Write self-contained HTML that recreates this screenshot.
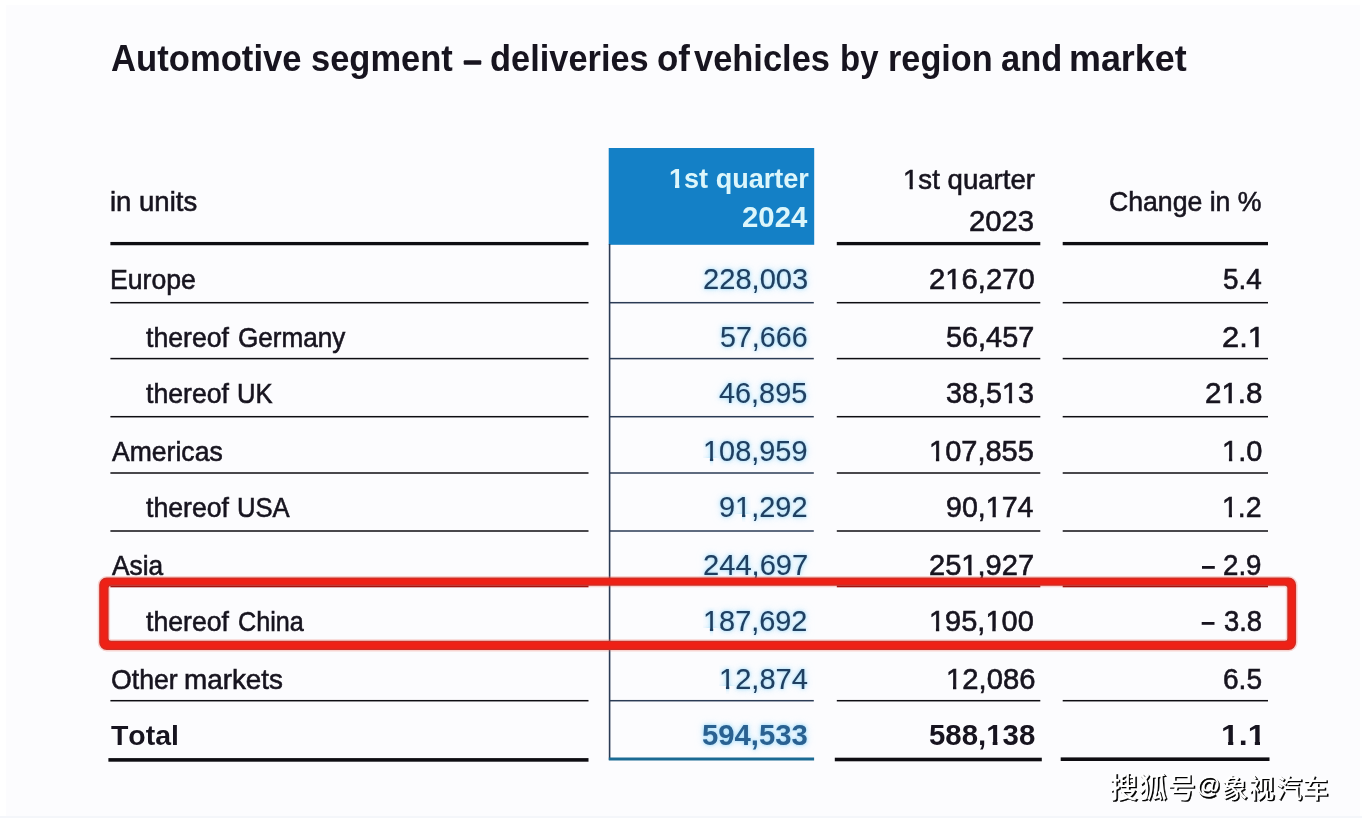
<!DOCTYPE html>
<html><head><meta charset="utf-8"><title>Automotive segment – deliveries of vehicles by region and market</title>
<style>
html,body{margin:0;padding:0;}
body{width:1362px;height:818px;overflow:hidden;background:#fcfcfe;font-family:"Liberation Sans",sans-serif;position:relative;}
.t{font-kerning:none;-webkit-text-stroke:0.6px currentColor;position:absolute;white-space:nowrap;line-height:1;transform-origin:0 0;display:block;}
.l{position:absolute;}
i{font-style:normal;}
.o0{display:inline-block;clip-path:polygon(0 0,100% 0,100% 20.29px,10.91px 20.29px,10.91px 100%,6.30px 100%,6.30px 20.29px,0 20.29px);}
.o1{display:inline-block;clip-path:polygon(0 0,100% 0,100% 21.07px,10.04px 21.07px,10.04px 100%,6.82px 100%,6.82px 21.07px,0 21.07px);}
.o2{display:inline-block;clip-path:polygon(0 0,100% 0,100% 21.03px,10.21px 21.03px,10.21px 100%,6.94px 100%,6.94px 21.03px,0 21.03px);}
.o3{display:inline-block;clip-path:polygon(0 0,100% 0,100% 20.24px,11.10px 20.24px,11.10px 100%,6.42px 100%,6.42px 20.24px,0 20.24px);}
#w{position:absolute;left:0;top:0;width:1362px;height:818px;will-change:transform;filter:blur(0.35px);}
.g{-webkit-text-stroke:0.1px currentColor;text-shadow:0 0 3px rgba(150,215,250,.75),0 0 5px rgba(165,222,250,.7),0 0 8px rgba(185,230,252,.6);}
</style></head><body><div id="w">
<svg class="l" style="left:0;top:0" width="1362" height="818" viewBox="0 0 1362 818"><rect x="463.70" y="60.30" width="17.60" height="4.40" fill="#17141f" rx="1"/>
<rect x="0.00" y="0.00" width="1362.00" height="5.00" fill="#ffffff" />
<rect x="0.00" y="0.00" width="6.00" height="818.00" fill="#ffffff" />
<rect x="1360.00" y="0.00" width="2.00" height="818.00" fill="#ffffff" />
<rect x="0.00" y="816.00" width="1362.00" height="2.00" fill="#f4f6fa" />
<rect x="609.00" y="245.00" width="205.00" height="514.00" fill="#fcfcfe" />
<rect x="608.70" y="148.00" width="205.50" height="96.80" fill="#1480c6" />
<rect x="608.80" y="244.00" width="1.60" height="516.00" fill="#2b3b55" />
<rect x="110.40" y="241.95" width="478.10" height="3.30" fill="#0e0d12" />
<rect x="836.80" y="241.95" width="203.50" height="3.30" fill="#0e0d12" />
<rect x="1062.70" y="241.95" width="205.30" height="3.30" fill="#0e0d12" />
<rect x="110.40" y="301.95" width="478.10" height="1.50" fill="#0e0d12" />
<rect x="609.00" y="301.95" width="204.80" height="1.50" fill="#2b3b55" />
<rect x="836.80" y="301.95" width="203.50" height="1.50" fill="#0e0d12" />
<rect x="1062.70" y="301.95" width="205.30" height="1.50" fill="#0e0d12" />
<rect x="110.40" y="357.85" width="478.10" height="1.50" fill="#0e0d12" />
<rect x="609.00" y="357.85" width="204.80" height="1.50" fill="#2b3b55" />
<rect x="836.80" y="357.85" width="203.50" height="1.50" fill="#0e0d12" />
<rect x="1062.70" y="357.85" width="205.30" height="1.50" fill="#0e0d12" />
<rect x="110.40" y="415.95" width="478.10" height="1.50" fill="#0e0d12" />
<rect x="609.00" y="415.95" width="204.80" height="1.50" fill="#2b3b55" />
<rect x="836.80" y="415.95" width="203.50" height="1.50" fill="#0e0d12" />
<rect x="1062.70" y="415.95" width="205.30" height="1.50" fill="#0e0d12" />
<rect x="110.40" y="472.25" width="478.10" height="1.50" fill="#0e0d12" />
<rect x="609.00" y="472.25" width="204.80" height="1.50" fill="#2b3b55" />
<rect x="836.80" y="472.25" width="203.50" height="1.50" fill="#0e0d12" />
<rect x="1062.70" y="472.25" width="205.30" height="1.50" fill="#0e0d12" />
<rect x="110.40" y="530.25" width="478.10" height="1.50" fill="#0e0d12" />
<rect x="609.00" y="530.25" width="204.80" height="1.50" fill="#2b3b55" />
<rect x="836.80" y="530.25" width="203.50" height="1.50" fill="#0e0d12" />
<rect x="1062.70" y="530.25" width="205.30" height="1.50" fill="#0e0d12" />
<rect x="1202.00" y="566.00" width="12.80" height="2.80" fill="#17141f" />
<rect x="1201.70" y="622.00" width="12.80" height="2.80" fill="#17141f" />
<rect x="110.40" y="699.95" width="478.10" height="1.50" fill="#0e0d12" />
<rect x="609.00" y="699.95" width="204.80" height="1.50" fill="#2b3b55" />
<rect x="836.80" y="699.95" width="203.50" height="1.50" fill="#0e0d12" />
<rect x="1062.70" y="699.95" width="205.30" height="1.50" fill="#0e0d12" />
<rect x="108.40" y="758.10" width="480.10" height="3.60" fill="#0e0d12" />
<rect x="608.80" y="757.50" width="205.30" height="3.00" fill="#1b6a93" />
<rect x="834.80" y="757.70" width="207.00" height="3.60" fill="#0e0d12" />
<rect x="1060.70" y="757.40" width="208.80" height="3.60" fill="#0e0d12" />
<g fill="#000" stroke="#000" stroke-width="0.5" font-family="'Liberation Sans','Noto Sans CJK SC',sans-serif" font-weight="500"><text y="799.20" font-size="28"><tspan x="1110.88">搜</tspan><tspan x="1139.99">狐</tspan><tspan x="1168.68">号</tspan></text><text x="1197.43" y="794.75" font-size="24">@</text><text y="799.20" font-size="25.8"><tspan x="1223.09">象</tspan><tspan x="1249.92">视</tspan><tspan x="1277.47">汽</tspan><tspan x="1303.86">车</tspan></text></g>
<g fill="#fff" font-family="'Liberation Sans','Noto Sans CJK SC',sans-serif" font-weight="500"><text y="797.90" font-size="28"><tspan x="1109.58">搜</tspan><tspan x="1138.69">狐</tspan><tspan x="1167.38">号</tspan></text><text x="1196.13" y="793.45" font-size="24">@</text><text y="797.90" font-size="25.8"><tspan x="1221.79">象</tspan><tspan x="1248.62">视</tspan><tspan x="1276.17">汽</tspan><tspan x="1302.56">车</tspan></text></g></svg>
<span class="t " style="left:110.64px;top:41px;font-size:36px;color:#17141f;transform:scaleX(0.9624);font-weight:bold;-webkit-text-stroke:0;">Automotive</span>
<span class="t " style="left:311.29px;top:41px;font-size:36px;color:#17141f;transform:scaleX(0.9581);font-weight:bold;-webkit-text-stroke:0;">segment</span>
<span class="t " style="left:490.29px;top:41px;font-size:36px;color:#17141f;transform:scaleX(0.9555);font-weight:bold;-webkit-text-stroke:0;">deliveries</span>
<span class="t " style="left:656.64px;top:41px;font-size:36px;color:#17141f;transform:scaleX(0.9681);font-weight:bold;-webkit-text-stroke:0;">of</span>
<span class="t " style="left:694.47px;top:41px;font-size:36px;color:#17141f;transform:scaleX(0.9567);font-weight:bold;-webkit-text-stroke:0;">vehicles</span>
<span class="t " style="left:840.03px;top:41px;font-size:36px;color:#17141f;transform:scaleX(0.9152);font-weight:bold;-webkit-text-stroke:0;">by</span>
<span class="t " style="left:887.74px;top:41px;font-size:36px;color:#17141f;transform:scaleX(0.9516);font-weight:bold;-webkit-text-stroke:0;">region</span>
<span class="t " style="left:1000.79px;top:41px;font-size:36px;color:#17141f;transform:scaleX(0.9559);font-weight:bold;-webkit-text-stroke:0;">and</span>
<span class="t " style="left:1069.03px;top:41px;font-size:36px;color:#17141f;transform:scaleX(0.9969);font-weight:bold;-webkit-text-stroke:0;">market</span>
<span class="t " style="left:110.16px;top:187px;font-size:28.5px;color:#17141f;transform:scaleX(0.9649);">in units</span>
<span class="t " style="left:668.55px;top:164px;font-size:28.5px;color:#dcf6fb;transform:scaleX(0.9495);font-weight:bold;-webkit-text-stroke:0;"><i class="o0">1</i>st quarter</span>
<span class="t " style="left:742.48px;top:203px;font-size:29px;color:#dcf6fb;transform:scaleX(1.0118);font-weight:bold;-webkit-text-stroke:0;">2024</span>
<span class="t " style="left:903.24px;top:165px;font-size:28.5px;color:#17141f;transform:scaleX(0.9690);"><i class="o1">1</i>st quarter</span>
<span class="t " style="left:969.43px;top:207px;font-size:29px;color:#17141f;transform:scaleX(1.0084);">2023</span>
<span class="t " style="left:1109.25px;top:187px;font-size:28.5px;color:#17141f;transform:scaleX(0.9345);">Change in %</span>
<span class="t " style="left:110.32px;top:265px;font-size:28.5px;color:#17141f;transform:scaleX(0.9343);">Europe</span>
<span class="t g" style="left:703.04px;top:265px;font-size:29px;color:#203f60;transform:scaleX(1.0040);">228,003</span>
<span class="t " style="left:928.63px;top:265px;font-size:29px;color:#17141f;transform:scaleX(1.0084);">2<i class="o2">1</i>6,270</span>
<span class="t " style="left:1222.88px;top:265px;font-size:29px;color:#17141f;transform:scaleX(0.9608);">5.4</span>
<span class="t " style="left:145.90px;top:323px;font-size:28.5px;color:#17141f;transform:scaleX(0.9350);">thereof</span>
<span class="t " style="left:237.89px;top:323px;font-size:28.5px;color:#17141f;transform:scaleX(0.9161);">Germany</span>
<span class="t g" style="left:720.05px;top:323px;font-size:29px;color:#203f60;transform:scaleX(0.9877);">57,666</span>
<span class="t " style="left:946.25px;top:323px;font-size:29px;color:#17141f;transform:scaleX(0.9944);">56,457</span>
<span class="t " style="left:1222.25px;top:323px;font-size:29px;color:#17141f;transform:scaleX(1.0650);">2.<i class="o2">1</i></span>
<span class="t " style="left:145.90px;top:379px;font-size:28.5px;color:#17141f;transform:scaleX(0.9350);">thereof</span>
<span class="t " style="left:237.22px;top:379px;font-size:28.5px;color:#17141f;transform:scaleX(0.8982);">UK</span>
<span class="t g" style="left:719.24px;top:379px;font-size:29px;color:#203f60;transform:scaleX(0.9952);">46,895</span>
<span class="t " style="left:946.30px;top:379px;font-size:29px;color:#17141f;transform:scaleX(0.9917);">38,5<i class="o2">1</i>3</span>
<span class="t " style="left:1205.01px;top:379px;font-size:29px;color:#17141f;transform:scaleX(1.0182);">2<i class="o2">1</i>.8</span>
<span class="t " style="left:112.05px;top:437px;font-size:28.5px;color:#17141f;transform:scaleX(0.9321);">Americas</span>
<span class="t g" style="left:703.22px;top:437px;font-size:29px;color:#203f60;transform:scaleX(0.9964);"><i class="o2">1</i>08,959</span>
<span class="t " style="left:929.41px;top:437px;font-size:29px;color:#17141f;transform:scaleX(0.9998);"><i class="o2">1</i>07,855</span>
<span class="t " style="left:1222.01px;top:437px;font-size:29px;color:#17141f;transform:scaleX(1.0002);"><i class="o2">1</i>.0</span>
<span class="t " style="left:145.90px;top:493px;font-size:28.5px;color:#17141f;transform:scaleX(0.9350);">thereof</span>
<span class="t " style="left:237.22px;top:493px;font-size:28.5px;color:#17141f;transform:scaleX(0.8998);">USA</span>
<span class="t g" style="left:719.14px;top:493px;font-size:29px;color:#203f60;transform:scaleX(0.9979);">9<i class="o2">1</i>,292</span>
<span class="t " style="left:946.46px;top:493px;font-size:29px;color:#17141f;transform:scaleX(0.9851);">90,<i class="o2">1</i>74</span>
<span class="t " style="left:1222.06px;top:493px;font-size:29px;color:#17141f;transform:scaleX(0.9815);"><i class="o2">1</i>.2</span>
<span class="t " style="left:112.05px;top:551px;font-size:28.5px;color:#17141f;transform:scaleX(0.9226);">Asia</span>
<span class="t g" style="left:703.04px;top:551px;font-size:29px;color:#203f60;transform:scaleX(1.0038);">244,697</span>
<span class="t " style="left:929.34px;top:551px;font-size:29px;color:#17141f;transform:scaleX(1.0028);">25<i class="o2">1</i>,927</span>
<span class="t " style="left:1223.01px;top:551px;font-size:29px;color:#17141f;transform:scaleX(0.9551);">2.9</span>
<span class="t " style="left:145.90px;top:607px;font-size:28.5px;color:#17141f;transform:scaleX(0.9350);">thereof</span>
<span class="t " style="left:237.92px;top:607px;font-size:28.5px;color:#17141f;transform:scaleX(0.8834);">China</span>
<span class="t g" style="left:703.22px;top:607px;font-size:29px;color:#203f60;transform:scaleX(0.9962);"><i class="o2">1</i>87,692</span>
<span class="t " style="left:929.41px;top:607px;font-size:29px;color:#17141f;transform:scaleX(0.9990);"><i class="o2">1</i>95,<i class="o2">1</i>00</span>
<span class="t " style="left:1223.56px;top:607px;font-size:29px;color:#17141f;transform:scaleX(0.9434);">3.8</span>
<span class="t " style="left:110.84px;top:665px;font-size:28.5px;color:#17141f;transform:scaleX(0.9359);">Other</span>
<span class="t " style="left:184.45px;top:665px;font-size:28.5px;color:#17141f;transform:scaleX(0.9763);">markets</span>
<span class="t g" style="left:719.01px;top:665px;font-size:29px;color:#203f60;transform:scaleX(1.0016);"><i class="o2">1</i>2,874</span>
<span class="t " style="left:945.59px;top:665px;font-size:29px;color:#17141f;transform:scaleX(1.0079);"><i class="o2">1</i>2,086</span>
<span class="t " style="left:1222.58px;top:665px;font-size:29px;color:#17141f;transform:scaleX(0.9675);">6.5</span>
<span class="t " style="left:111.18px;top:721px;font-size:28.5px;color:#17141f;transform:scaleX(0.9979);font-weight:bold;-webkit-text-stroke:0;">Total</span>
<span class="t g" style="left:702.20px;top:721px;font-size:29px;color:#2a6191;transform:scaleX(1.0098);font-weight:bold;-webkit-text-stroke:0;">594,533</span>
<span class="t " style="left:928.80px;top:721px;font-size:29px;color:#17141f;transform:scaleX(1.0132);font-weight:bold;-webkit-text-stroke:0;">588,<i class="o3">1</i>38</span>
<span class="t " style="left:1220.71px;top:721px;font-size:29px;color:#17141f;transform:scaleX(1.1047);font-weight:bold;-webkit-text-stroke:0;"><i class="o3">1</i>.<i class="o3">1</i></span>
<svg class="l" style="left:0;top:0" width="1362" height="818" viewBox="0 0 1362 818"><path d="M106.70 577.50H1288.60A7.5 7.5 0 0 1 1296.10 585.00V642.50A7.5 7.5 0 0 1 1288.60 650.00H106.70A7.5 7.5 0 0 1 99.20 642.50V585.00A7.5 7.5 0 0 1 106.70 577.50ZM111.10 585.70A2.5 2.5 0 0 0 108.60 588.20V638.30A2.5 2.5 0 0 0 111.10 640.80H1284.80A2.5 2.5 0 0 0 1287.30 638.30V588.20A2.5 2.5 0 0 0 1284.80 585.70Z" fill="#cb2f27" stroke="#f26a58" stroke-width="3.0" stroke-opacity="0.28" paint-order="stroke"/>
<path d="M106.70 578.80H1288.60A6.2 6.2 0 0 1 1294.80 585.00V642.50A6.2 6.2 0 0 1 1288.60 648.70H106.70A6.2 6.2 0 0 1 100.50 642.50V585.00A6.2 6.2 0 0 1 106.70 578.80ZM111.10 584.40A3.8 3.8 0 0 0 107.30 588.20V638.30A3.8 3.8 0 0 0 111.10 642.10H1284.80A3.8 3.8 0 0 0 1288.60 638.30V588.20A3.8 3.8 0 0 0 1284.80 584.40Z" fill="#ee2116"/>
<rect x="110.40" y="585.60" width="478.10" height="1.70" fill="#a3130f" />
<rect x="836.80" y="585.60" width="203.50" height="1.70" fill="#a3130f" />
<rect x="1062.70" y="585.60" width="205.30" height="1.70" fill="#a3130f" /></svg>
</div></body></html>
